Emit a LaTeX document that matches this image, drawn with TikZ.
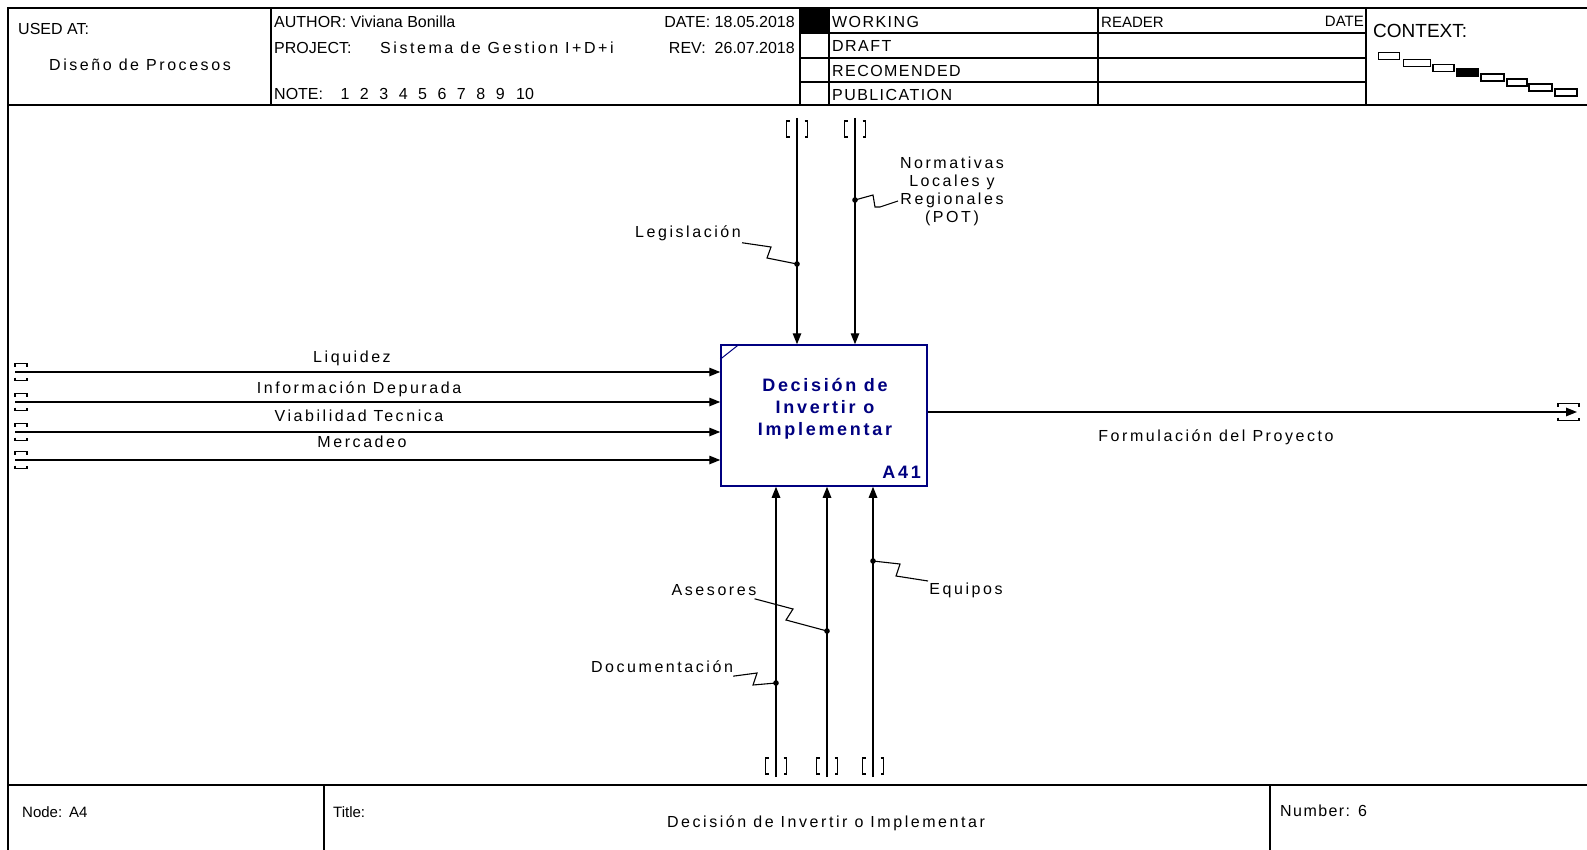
\documentclass[tikz,border=0pt]{standalone}
\usepackage{fontspec}
\setmainfont{Liberation Sans}
\newfontfamily\spaced[LetterSpace=16]{Liberation Sans}
\newfontfamily\boxfont[LetterSpace=15]{Liberation Sans}
\newfontfamily\semispaced[LetterSpace=9]{Liberation Sans}
\usetikzlibrary{arrows.meta}
\definecolor{navy}{RGB}{0,0,128}
\begin{document}
\begin{tikzpicture}[x=1pt,y=-1pt,
  frame/.style={line width=1.5pt},
  conn/.style={line width=1.4pt},
  arr/.style={conn,-{Triangle[length=11pt,width=8.5pt]}},
  sq/.style={line width=1.1pt},
  lab/.style={font=\fontsize{16}{18}\selectfont\spaced, inner sep=0pt, align=center},
  hdr/.style={font=\fontsize{16}{19}\selectfont, inner sep=0pt, anchor=west},
  stat/.style={font=\fontsize{16}{19}\selectfont\semispaced, inner sep=0pt, anchor=west},
  small/.style={font=\fontsize{15}{17}\selectfont, inner sep=0pt},
  bt/.style={line width=1.3pt},
  pics/hbr/.style={code={
    \draw[bt] (0,-5.5)--(0,-8.5)--(#1,-8.5)--(#1,-5.5);
    \draw[bt] (0,5.5)--(0,8.5)--(#1,8.5)--(#1,5.5);}},
  pics/vbr/.style={code={
    \draw[bt] (-7.5,-8)--(-10.5,-8)--(-10.5,8)--(-7.5,8);
    \draw[bt] (7.5,-8)--(10.5,-8)--(10.5,8)--(7.5,8);}},
  ctx/.style={draw, line width=1.5pt, minimum width=#1pt, minimum height=7pt, inner sep=0pt}
]
\useasboundingbox (0,0) rectangle (1587,850);
\fill[white] (0,0) rectangle (1587,850);
% ---------- frame ----------
\draw[frame] (1587,8) -- (8,8) -- (8,850);
\draw[frame] (8,105) -- (1587,105);
\draw[frame] (8,785) -- (1587,785);
% header dividers
\foreach \x in {271,800,829,1098,1366} \draw[frame] (\x,8) -- (\x,105);
\foreach \y in {33,58,82} \draw[frame] (800,\y) -- (1366,\y);
\fill (800,8) rectangle (829,33);
% footer dividers
\draw[frame] (324,785) -- (324,850);
\draw[frame] (1270,785) -- (1270,850);
% ---------- header texts ----------
\node[hdr] (usedat) at (18,29) {USED AT:};
\node[lab] (diseno) at (140,65) {Diseño de Procesos};
\node[hdr] (author) at (274,22) {AUTHOR: Viviana Bonilla};
\node[hdr,anchor=east] (date) at (795,22) {DATE: 18.05.2018};
\node[hdr] (project) at (274,48) {PROJECT:};
\node[lab,anchor=west] (sistema) at (380,48) {Sistema de Gestion I+D+i};
\node[hdr,anchor=east] (rev) at (795,48) {REV:\hspace{9pt}26.07.2018};
\node[hdr] (note) at (274,94) {NOTE:};
\foreach \d [count=\i] in {1,2,3,4,5,6,7,8,9} \node[hdr,anchor=center] (nt\i) at (345+19.4*\i-19.4,94) {\d};
\node[hdr,anchor=center] (nt10) at (525,94) {10};
\node[stat] (working) at (832,22) {WORKING};
\node[stat] (draft) at (832,46) {DRAFT};
\node[stat] (recom) at (832,71) {RECOMENDED};
\node[stat] (public) at (832,95) {PUBLICATION};
\node[small,anchor=west] (reader) at (1101,22) {READER};
\node[small,anchor=east] (rdate) at (1364,21) {DATE};
\node[hdr,font=\fontsize{19}{22}\selectfont] (context) at (1373,31) {CONTEXT:};
% context boxes
\node[ctx=21] (k1) at (1389,56) {};
\node[ctx=27] (k2) at (1417,63) {};
\node[ctx=21] (k3) at (1443.5,68) {};
\node[ctx=21,fill=black] (k4) at (1467.5,72.5) {};
\node[ctx=23] (k5) at (1492.5,77.5) {};
\node[ctx=20] (k6) at (1517,82.5) {};
\node[ctx=23] (k7) at (1540.5,87.5) {};
\node[ctx=22] (k8) at (1566,92.5) {};
% ---------- main box ----------
\node[draw=navy, line width=1.5pt, minimum width=206pt, minimum height=141pt, inner sep=0pt] (A41) at (824,415.5) {};
\draw[navy, line width=1pt] ([yshift=-15pt]A41.north west) -- ([xshift=19pt]A41.north west);
\node[font=\fontsize{18}{22}\selectfont\boxfont\bfseries, text=navy, align=center, inner sep=0pt] (atext) at (825,409) {Decisión de\\Invertir o\\Implementar};
\node[font=\fontsize{18}{20}\selectfont\boxfont\bfseries, text=navy, inner sep=0pt, anchor=base east] (anum) at (921,478) {A41};
% ---------- inputs ----------
\foreach \n/\y in {1/372,2/402,3/432,4/460} {
  \coordinate (i\n) at (15,\y);
  \draw[arr] (i\n) -- (i\n -| A41.west);
  \pic at (i\n) {hbr=12};
}
\node[lab] (liq) at (352,358) {Liquidez};
\node[lab] (info) at (359,389) {Información Depurada};
\node[lab] (viab) at (359,416) {Viabilidad Tecnica};
\node[lab] (merc) at (362,442) {Mercadeo};
% ---------- output ----------
\coordinate (o1) at (1577,412);
\draw[arr] (A41.east |- o1) -- (o1);
\pic at (1558,412) {hbr=21};
\node[lab] (form) at (1216,437) {Formulación del Proyecto};
% ---------- controls ----------
\coordinate (c1) at (797,118);
\coordinate (c2) at (855,118);
\draw[arr] (c1) -- (c1 |- A41.north);
\draw[arr] (c2) -- (c2 |- A41.north);
\pic at (797,129) {vbr};
\pic at (855,129) {vbr};
\node[lab] (leg) at (688,233) {Legislación};
\coordinate (dleg) at (797,264);
\draw[sq] ([xshift=1pt,yshift=-2pt]leg.south east) -- (771,247) -- (767,258) -- (dleg);
\fill (dleg) circle (2.8);
\node[lab] (norm) at (952,191) {Normativas\\Locales y\\Regionales\\(POT)};
\coordinate (dnorm) at (855,200);
\draw[sq] (dnorm) -- (873,195) -- (875,207) -- (880,207) -- (898,201);
\fill (dnorm) circle (2.8);
% ---------- mechanisms ----------
\foreach \n/\x in {1/776,2/827,3/873} {
  \coordinate (m\n) at (\x,777);
  \draw[arr] (m\n) -- (m\n |- A41.south);
  \pic at (\x,766) {vbr};
}
\node[lab] (ases) at (714,590) {Asesores};
\coordinate (dases) at (827,631);
\draw[sq] ([xshift=-2pt,yshift=-3pt]ases.south east) -- (793,609) -- (786,620) -- (dases);
\fill (dases) circle (2.8);
\node[lab] (docu) at (662,667) {Documentación};
\coordinate (ddocu) at (776,683);
\draw[sq] ([xshift=0pt,yshift=-3pt]docu.south east) -- (757,673) -- (753,685) -- (ddocu);
\fill (ddocu) circle (2.8);
\node[lab] (equi) at (966,590) {Equipos};
\coordinate (dequi) at (873,561);
\draw[sq] (dequi) -- (900,564) -- (896,576) -- (928,581);
\fill (dequi) circle (2.8);
% ---------- footer ----------
\node[hdr,font=\fontsize{15}{18}\selectfont] (node) at (22,812) {Node:\hspace{7pt}A4};
\node[hdr,font=\fontsize{15}{18}\selectfont] (title) at (333,812) {Title:};
\node[lab] (ttext) at (826,823) {Decisión de Invertir o Implementar};
\node[hdr,font=\fontsize{16}{19}\selectfont\semispaced] (number) at (1280,811) {Number: 6};
\end{tikzpicture}
\end{document}
